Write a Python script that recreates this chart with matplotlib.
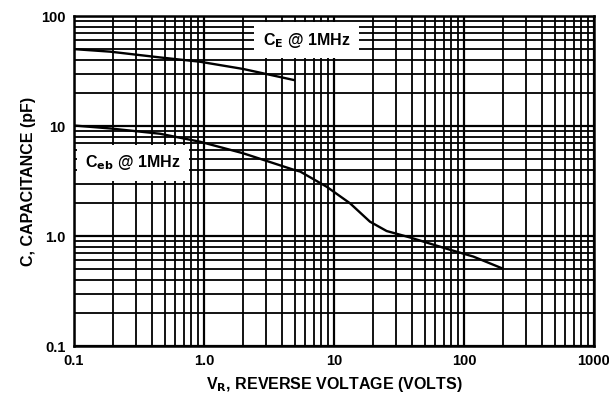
import matplotlib.pyplot as plt
import numpy as np

# Ccb-like upper curve and Ceb lower curve
vr_top = [0.1, 0.19, 0.46, 0.93, 2.0, 4.9]
c_top = [50, 47.4, 42, 38.4, 33, 26.2]

vr_eb = [0.1, 0.19, 0.46, 0.93, 2.0, 4.9, 5.5, 8.8, 13.3, 18.9, 25.4, 38.4, 78, 118, 195]
c_eb = [10.1, 9.5, 8.5, 7.2, 5.65, 4.0, 3.85, 2.8, 1.98, 1.35, 1.11, 0.97, 0.75, 0.65, 0.51]

x_ticks = [0.1, 1, 10, 100, 1000]
x_labels = ['0.1', '1.0', '10', '100', '1000']
y_ticks = [0.1, 1, 10, 100]
y_labels = ['0.1', '1.0', '10', '100']

plt.rcParams['font.family'] = ['Liberation Sans Narrow', 'Liberation Sans', 'DejaVu Sans']

fig = plt.figure(figsize=(6.09, 4.01), dpi=100)
ax = fig.add_axes([74 / 609, 1 - 346 / 401, 520 / 609, 330 / 401])

ax.set_xscale('log')
ax.set_yscale('log')
ax.set_xlim(0.1, 1000)
ax.set_ylim(0.1, 100)

ax.grid(which='major', color='black', linewidth=1.6)
ax.grid(which='minor', color='black', linewidth=1.3)
ax.set_axisbelow(True)

ax.plot(vr_top, c_top, color='black', linewidth=1.7, zorder=3)
ax.plot(vr_eb, c_eb, color='black', linewidth=1.7, zorder=3)

ax.set_xticks(x_ticks)
ax.set_xticklabels(x_labels)
ax.set_yticks(y_ticks)
ax.set_yticklabels(y_labels)
ax.tick_params(which='both', length=0, labelsize=10.5)
ax.tick_params(axis='x', pad=6)
ax.tick_params(axis='y', pad=6)
for lab in ax.get_xticklabels() + ax.get_yticklabels():
    lab.set_fontweight('bold')

for s in ax.spines.values():
    s.set_linewidth(1.8)

ax.set_xlabel('V$_{\\mathbf{R}}$, REVERSE VOLTAGE (VOLTS)', fontsize=11.5, fontweight='bold', labelpad=5)
ax.set_ylabel('C, CAPACITANCE (pF)', fontsize=11.5, fontweight='bold', labelpad=4)

box = dict(facecolor='white', edgecolor='none', pad=6)
ax.text(0.363, 0.927, 'C$_{\\mathbf{E}}$ @ 1MHz', transform=ax.transAxes, fontsize=11.5,
        fontweight='bold', va='center', ha='left', bbox=box, zorder=4)
ax.text(0.022, 0.555, 'C$_{\\mathbf{eb}}$ @ 1MHz', transform=ax.transAxes, fontsize=11.5,
        fontweight='bold', va='center', ha='left', bbox=box, zorder=4)

plt.savefig('out.png', dpi=100)
